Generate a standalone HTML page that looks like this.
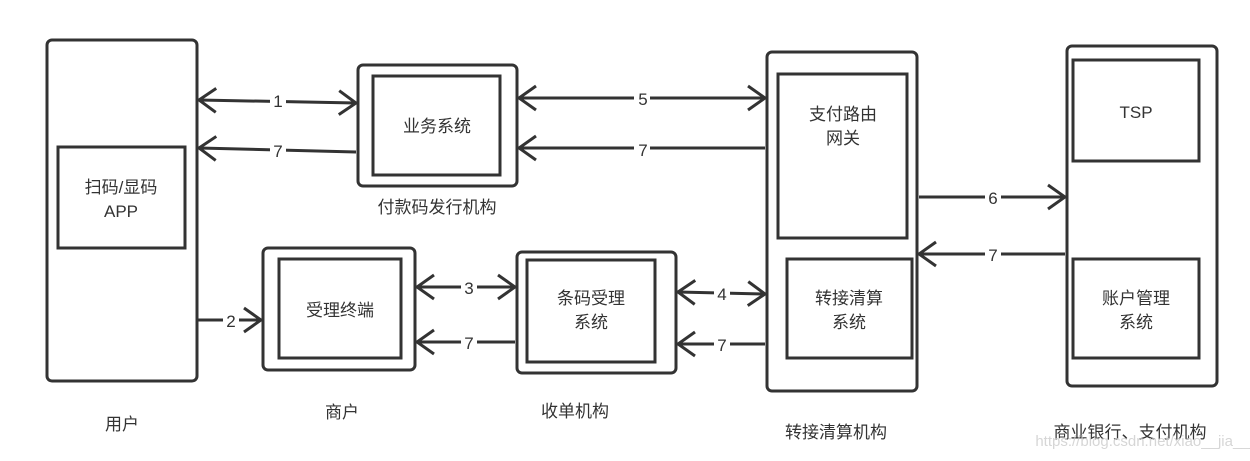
<!DOCTYPE html>
<html><head><meta charset="utf-8"><style>
html,body{margin:0;padding:0;background:#fff;width:1250px;height:461px;overflow:hidden}
text{font-family:"Liberation Sans","Noto Sans CJK SC",sans-serif;fill:#333;font-size:17px;text-anchor:middle}
</style></head><body>
<svg width="1250" height="461" viewBox="0 0 1250 461" xmlns="http://www.w3.org/2000/svg">
<defs>
<marker id="a" markerWidth="20" markerHeight="28" refX="18" refY="14" orient="auto-start-reverse" markerUnits="userSpaceOnUse">
<path d="M1,2 L18,14 L1,26" fill="none" stroke="#333" stroke-width="3"/>
</marker>
</defs>
<g fill="none" stroke="#333" stroke-width="3">
<rect x="47" y="40" width="150" height="341" rx="5"/>
<rect x="58" y="147" width="127" height="101"/>
<rect x="358" y="65" width="159" height="121" rx="5"/>
<rect x="373" y="76" width="127" height="99"/>
<rect x="263" y="248" width="152" height="122" rx="5"/>
<rect x="279" y="259" width="122" height="99"/>
<rect x="517" y="252" width="159" height="121" rx="5"/>
<rect x="527" y="260" width="128" height="102"/>
<rect x="767" y="52" width="150" height="339" rx="5"/>
<rect x="778" y="74" width="129" height="164"/>
<rect x="787" y="259" width="125" height="99"/>
<rect x="1067" y="46" width="150" height="340" rx="5"/>
<rect x="1073" y="60" width="126" height="101"/>
<rect x="1073" y="259" width="126" height="99"/>
<line x1="199" y1="100" x2="356" y2="103" marker-start="url(#a)" marker-end="url(#a)"/>
<line x1="356" y1="152" x2="199" y2="148" marker-end="url(#a)"/>
<line x1="519" y1="98" x2="765" y2="98" marker-start="url(#a)" marker-end="url(#a)"/>
<line x1="765" y1="148" x2="519" y2="148" marker-end="url(#a)"/>
<line x1="919" y1="197" x2="1065" y2="197" marker-end="url(#a)"/>
<line x1="1065" y1="254" x2="919" y2="254" marker-end="url(#a)"/>
<line x1="197" y1="320" x2="261" y2="320" marker-end="url(#a)"/>
<line x1="417" y1="287" x2="515" y2="287" marker-start="url(#a)" marker-end="url(#a)"/>
<line x1="515" y1="342" x2="417" y2="342" marker-end="url(#a)"/>
<line x1="678" y1="292" x2="765" y2="294" marker-start="url(#a)" marker-end="url(#a)"/>
<line x1="765" y1="344" x2="678" y2="344" marker-end="url(#a)"/>
</g>
<g>
<rect x="270" y="90" width="16" height="20" fill="#fff"/><text x="278" y="107">1</text>
<rect x="270" y="140" width="16" height="20" fill="#fff"/><text x="278" y="157">7</text>
<rect x="634" y="88" width="16" height="20" fill="#fff"/><text x="643" y="105">5</text>
<rect x="634" y="138" width="16" height="20" fill="#fff"/><text x="643" y="156">7</text>
<rect x="985" y="187" width="16" height="20" fill="#fff"/><text x="993" y="204">6</text>
<rect x="985" y="244" width="16" height="20" fill="#fff"/><text x="993" y="261">7</text>
<rect x="223" y="310" width="16" height="20" fill="#fff"/><text x="231" y="327">2</text>
<rect x="461" y="277" width="16" height="20" fill="#fff"/><text x="469" y="294">3</text>
<rect x="461" y="332" width="16" height="20" fill="#fff"/><text x="469" y="349">7</text>
<rect x="714" y="283" width="16" height="20" fill="#fff"/><text x="722" y="300">4</text>
<rect x="714" y="334" width="16" height="20" fill="#fff"/><text x="722" y="351">7</text>
</g>
<text x="121" y="193">扫码/显码</text>
<text x="121" y="217">APP</text>
<text x="437" y="132">业务系统</text>
<text x="340" y="316">受理终端</text>
<text x="591" y="304">条码受理</text>
<text x="591" y="328">系统</text>
<text x="843" y="120">支付路由</text>
<text x="843" y="144">网关</text>
<text x="849" y="304">转接清算</text>
<text x="849" y="328">系统</text>
<text x="1136" y="118">TSP</text>
<text x="1136" y="304">账户管理</text>
<text x="1136" y="328">系统</text>
<text x="437" y="213">付款码发行机构</text>
<text x="122" y="430">用户</text>
<text x="342" y="418">商户</text>
<text x="575" y="417">收单机构</text>
<text x="836" y="438">转接清算机构</text>
<text x="1130" y="438">商业银行、支付机构</text>
<text x="1150" y="446" style="font-size:15px;fill:#ccc;opacity:.8">https://blog.csdn.net/xiao__jia__jia</text>
</svg>
</body></html>
